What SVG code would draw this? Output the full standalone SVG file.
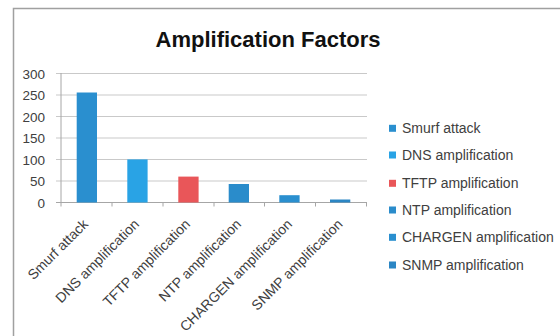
<svg xmlns="http://www.w3.org/2000/svg" width="560" height="336" viewBox="0 0 560 336">
<style>
text{font-family:"Liberation Sans",Arial,sans-serif;fill:#404040}
.t{font-size:22px;font-weight:bold;fill:#111}
.y{font-size:13.5px;text-anchor:end}
.x{font-size:14px;text-anchor:end}
.l{font-size:14px}
.g{stroke:#c9c9c9;stroke-width:1}
.ax{stroke:#a6a6a6;stroke-width:1}
</style>
<rect x="0" y="0" width="560" height="336" fill="#fff"/>
<path d="M13.5,340 V8.5 H565" fill="none" stroke="#a0a0a0" stroke-width="1.5"/>
<text class="t" x="268" y="47" text-anchor="middle">Amplification Factors</text>
<g id="grid">
<line class="g" x1="56" y1="73.5" x2="367" y2="73.5"/>
<line class="g" x1="56" y1="95" x2="367" y2="95"/>
<line class="g" x1="56" y1="116.5" x2="367" y2="116.5"/>
<line class="g" x1="56" y1="138" x2="367" y2="138"/>
<line class="g" x1="56" y1="159.5" x2="367" y2="159.5"/>
<line class="g" x1="56" y1="181" x2="367" y2="181"/>
<line class="ax" x1="61" y1="73" x2="61" y2="203"/>
<line class="ax" x1="56" y1="202.5" x2="367" y2="202.5"/>
<path class="ax" d="M61,202.5v4M112,202.5v4M163,202.5v4M214,202.5v4M264.5,202.5v4M315.5,202.5v4M366.5,202.5v4"/>
</g>
<g id="yaxis">
<text class="y" x="45" y="78.5">300</text>
<text class="y" x="45" y="100">250</text>
<text class="y" x="45" y="121.5">200</text>
<text class="y" x="45" y="143">150</text>
<text class="y" x="45" y="164.5">100</text>
<text class="y" x="45" y="186">50</text>
<text class="y" x="45" y="207.5">0</text>
</g>
<g id="bar-smurf"><rect x="76.7" y="92.5" width="20.3" height="110" fill="#2a8fcf"/></g>
<g id="bar-dns"><rect x="127.3" y="159.4" width="20.3" height="43.1" fill="#29a3e5"/></g>
<g id="bar-tftp"><rect x="178.3" y="176.6" width="20.3" height="25.9" fill="#e95659"/></g>
<g id="bar-ntp"><rect x="228.7" y="184" width="20.3" height="18.5" fill="#2a8ccb"/></g>
<g id="bar-chargen"><rect x="279.3" y="195.2" width="20.3" height="7.3" fill="#2a8fcf"/></g>
<g id="bar-snmp"><rect x="330" y="199.5" width="20.3" height="3" fill="#2b86c4"/></g>
<g id="xlabels">
<text class="x" transform="translate(89,225) rotate(-45)">Smurf attack</text>
<text class="x" transform="translate(140,225) rotate(-45)">DNS amplification</text>
<text class="x" transform="translate(191,225) rotate(-45)">TFTP amplification</text>
<text class="x" transform="translate(242,225) rotate(-45)">NTP amplification</text>
<text class="x" transform="translate(293,225) rotate(-45)">CHARGEN amplification</text>
<text class="x" transform="translate(343.5,225) rotate(-45)">SNMP amplification</text>
</g>
<g id="legend">
<rect x="389" y="124.8" width="7" height="7" fill="#2a8fcf"/><text class="l" x="402" y="133.3">Smurf attack</text>
<rect x="389" y="151.5" width="7" height="7" fill="#29a3e5"/><text class="l" x="402" y="160">DNS amplification</text>
<rect x="389" y="179.8" width="7" height="7" fill="#e95659"/><text class="l" x="402" y="188.3">TFTP amplification</text>
<rect x="389" y="206.5" width="7" height="7" fill="#2a8ccb"/><text class="l" x="402" y="215">NTP amplification</text>
<rect x="389" y="233.8" width="7" height="7" fill="#2a8fcf"/><text class="l" x="402" y="242.3">CHARGEN amplification</text>
<rect x="389" y="261.5" width="7" height="7" fill="#2b86c4"/><text class="l" x="402" y="270">SNMP amplification</text>
</g>
</svg>
